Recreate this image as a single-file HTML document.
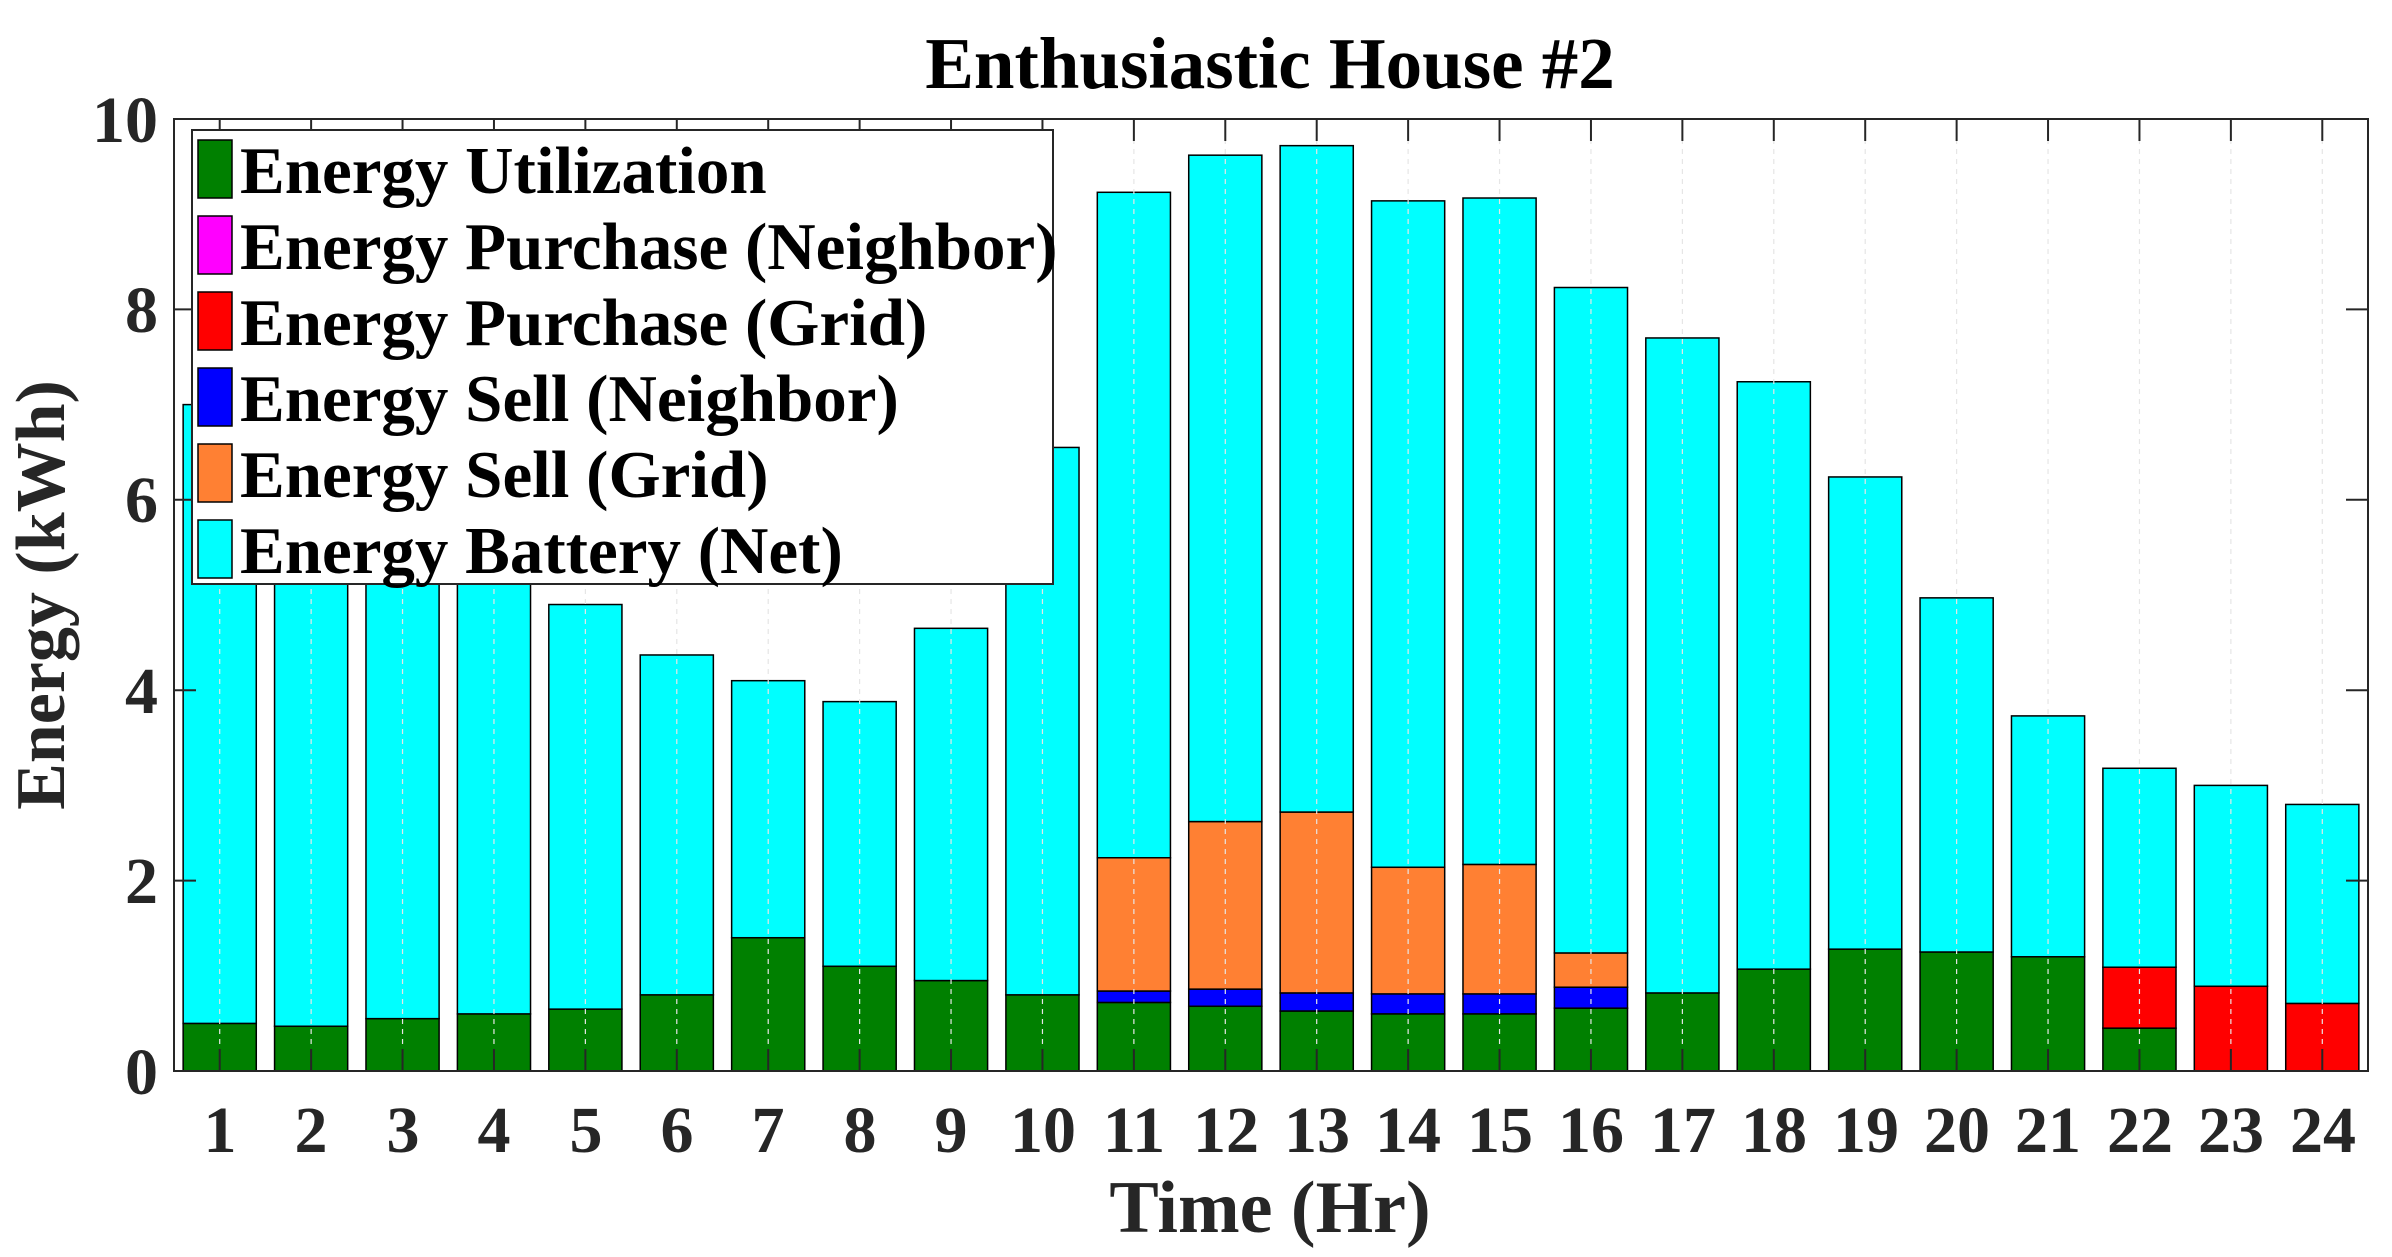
<!DOCTYPE html>
<html><head><meta charset="utf-8"><style>
html,body{margin:0;padding:0;background:#fff;}
svg{display:block;font-family:"Liberation Serif",serif;font-weight:bold;}
</style></head><body>
<svg id="s" width="2392" height="1257" viewBox="0 0 2392 1257" xmlns="http://www.w3.org/2000/svg">
<rect width="2392" height="1257" fill="#fff"/>
<g id="bars"></g>
<g id="grid"></g>
<rect x="174" y="119" width="2194" height="952" fill="none" stroke="#262626" stroke-width="2"/>
<g id="ticks" stroke="#262626" stroke-width="2"></g>
<text x="1270" y="88" font-size="73" text-anchor="middle" fill="#000">Enthusiastic House #2</text>
<g font-size="66" fill="#262626" text-anchor="end">
<text x="158" y="1094">0</text><text x="158" y="903">2</text><text x="158" y="713">4</text>
<text x="158" y="522">6</text><text x="158" y="332">8</text><text x="158" y="142">10</text>
</g>
<g id="xl" font-size="66" fill="#262626" text-anchor="middle">
<text x="220" y="1152">1</text><text x="311" y="1152">2</text><text x="403" y="1152">3</text><text x="494" y="1152">4</text><text x="586" y="1152">5</text><text x="677" y="1152">6</text><text x="768" y="1152">7</text><text x="860" y="1152">8</text><text x="951" y="1152">9</text><text x="1043" y="1152">10</text><text x="1134" y="1152">11</text><text x="1226" y="1152">12</text><text x="1317" y="1152">13</text><text x="1408" y="1152">14</text><text x="1500" y="1152">15</text><text x="1591" y="1152">16</text><text x="1683" y="1152">17</text><text x="1774" y="1152">18</text><text x="1866" y="1152">19</text><text x="1957" y="1152">20</text><text x="2048" y="1152">21</text><text x="2140" y="1152">22</text><text x="2231" y="1152">23</text><text x="2323" y="1152">24</text>
</g>
<text x="1270" y="1232" font-size="74" text-anchor="middle" fill="#262626">Time (Hr)</text>
<text transform="translate(64,595) rotate(-90)" font-size="70" text-anchor="middle" fill="#262626">Energy (kWh)</text>
<g>
<rect x="192" y="130" width="861" height="454" fill="#fff" stroke="#262626" stroke-width="2"/>
<g stroke="#000" stroke-width="1.5">
<rect x="198" y="140" width="34" height="58" fill="#008000"/>
<rect x="198" y="216" width="34" height="58" fill="#ff00ff"/>
<rect x="198" y="292" width="34" height="58" fill="#ff0000"/>
<rect x="198" y="368" width="34" height="58" fill="#0000ff"/>
<rect x="198" y="444" width="34" height="58" fill="#ff8033"/>
<rect x="198" y="520" width="34" height="58" fill="#00ffff"/>
</g>
<g font-size="67" fill="#000">
<text x="240" y="193">Energy Utilization</text>
<text x="240" y="269">Energy Purchase (Neighbor)</text>
<text x="240" y="345">Energy Purchase (Grid)</text>
<text x="240" y="421">Energy Sell (Neighbor)</text>
<text x="240" y="497">Energy Sell (Grid)</text>
<text x="240" y="573">Energy Battery (Net)</text>
</g>
</g>
<script>
(function(){
var NS="http://www.w3.org/2000/svg";
var L=174,R=2368,T=119,B=1071,u=(B-T)/10,sp=(R-L)/24;
var d=[
[[0.5,'#008000'],[7.0,'#00ffff']],
[[0.47,'#008000'],[6.8,'#00ffff']],
[[0.55,'#008000'],[6.5,'#00ffff']],
[[0.6,'#008000'],[6.0,'#00ffff']],
[[0.65,'#008000'],[4.9,'#00ffff']],
[[0.8,'#008000'],[4.37,'#00ffff']],
[[1.4,'#008000'],[4.1,'#00ffff']],
[[1.1,'#008000'],[3.88,'#00ffff']],
[[0.95,'#008000'],[4.65,'#00ffff']],
[[0.8,'#008000'],[6.55,'#00ffff']],
[[0.72,'#008000'],[0.84,'#0000ff'],[2.24,'#ff8033'],[9.23,'#00ffff']],
[[0.68,'#008000'],[0.86,'#0000ff'],[2.62,'#ff8033'],[9.62,'#00ffff']],
[[0.63,'#008000'],[0.82,'#0000ff'],[2.72,'#ff8033'],[9.72,'#00ffff']],
[[0.6,'#008000'],[0.81,'#0000ff'],[2.14,'#ff8033'],[9.14,'#00ffff']],
[[0.6,'#008000'],[0.81,'#0000ff'],[2.17,'#ff8033'],[9.17,'#00ffff']],
[[0.66,'#008000'],[0.88,'#0000ff'],[1.24,'#ff8033'],[8.23,'#00ffff']],
[[0.82,'#008000'],[7.7,'#00ffff']],
[[1.07,'#008000'],[7.24,'#00ffff']],
[[1.28,'#008000'],[6.24,'#00ffff']],
[[1.25,'#008000'],[4.97,'#00ffff']],
[[1.2,'#008000'],[3.73,'#00ffff']],
[[0.45,'#008000'],[1.09,'#ff0000'],[3.18,'#00ffff']],
[[0.89,'#ff0000'],[3.0,'#00ffff']],
[[0.71,'#ff0000'],[2.8,'#00ffff']]
];
var g=document.getElementById('bars'),gr=document.getElementById('grid'),tk=document.getElementById('ticks');
function el(n,a,p){var e=document.createElementNS(NS,n);for(var k in a)e.setAttribute(k,a[k]);p.appendChild(e);return e;}
for(var i=0;i<24;i++){
 var cx=L+sp*(i+0.5),w=sp*0.8,x=cx-w/2,prev=0;
 d[i].forEach(function(s){var y1=B-s[0]*u,y0=B-prev*u;
  el('rect',{x:x,y:y1,width:w,height:y0-y1,fill:s[1],stroke:'#000','stroke-width':1.5},g);prev=s[0];});
 el('line',{x1:cx,y1:T,x2:cx,y2:B,stroke:'#e6e6e6','stroke-width':1.2,'stroke-dasharray':'5,5'},gr);
 el('line',{x1:cx,y1:B,x2:cx,y2:B-22},tk);
 el('line',{x1:cx,y1:T,x2:cx,y2:T+22},tk);
}
for(var v=0;v<=10;v+=2){var y=B-v*u;
 el('line',{x1:L,y1:y,x2:L+22,y2:y},tk);el('line',{x1:R,y1:y,x2:R-22,y2:y},tk);}
})();
</script>
</svg>
</body></html>
